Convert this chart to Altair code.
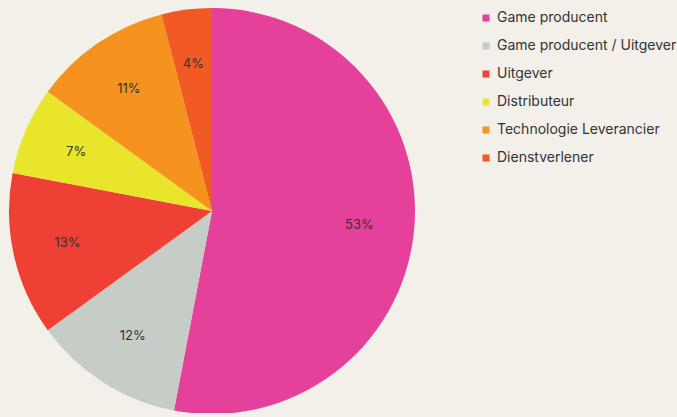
import altair as alt
import pandas as pd

categories = ["Game producent", "Game producent / Uitgever", "Uitgever",
              "Distributeur", "Technologie Leverancier", "Dienstverlener"]
values = [53, 12, 13, 7, 11, 4]
colors = ["#e5409a", "#c5cdc6", "#ee4035", "#e8e52a", "#f6921e", "#f15a24"]

df = pd.DataFrame({
    "cat": categories,
    "value": values,
    "order": list(range(len(categories))),
    "label": [f"{v}%" for v in values],
})

FONT = "Inter"
BG = "#f2f0e8"

# page background to match the chart background; no page margin
try:
    import altair.utils.html as _h
    _orig = _h.TEMPLATES["standard"]

    class _Wrapped:
        def render(self, **kw):
            return _orig.render(**kw).replace(
                "<head>",
                "<head><style>html,body{background:%s;margin:0;padding:0;overflow:hidden;}"
                ".vega-embed{padding:0 !important;}</style>" % BG,
                1)

    _h.TEMPLATES["standard"] = _Wrapped()
except Exception:
    pass

base = alt.Chart(df).encode(
    theta=alt.Theta("value:Q", stack=True),
    order=alt.Order("order:Q"),
)

pie = base.mark_arc(outerRadius=203, stroke=None).encode(
    x=alt.value(212),
    y=alt.value(211),
    color=alt.Color(
        "cat:N",
        scale=alt.Scale(domain=categories, range=colors),
        sort=categories,
        legend=alt.Legend(
            title=None,
            orient="none",
            legendX=479,
            legendY=11,
            symbolType="square",
            symbolSize=49,
            symbolStrokeWidth=0,
            labelFontSize=14,
            labelFont=FONT,
            labelColor="#333333",
            labelOffset=4,
            rowPadding=14,
            labelLimit=300,
        ),
    ),
)

text = base.mark_text(radius=148, font=FONT, fontSize=13, color="#333333",
                      baseline="middle").encode(
    x=alt.value(212),
    y=alt.value(211),
    text="label:N",
)

chart = (pie + text).properties(
    width=677, height=413, background=BG,
    autosize=alt.AutoSizeParams(type="none"), padding=0,
).configure_view(stroke=None)

chart.save("out.html", embed_options={"renderer": "svg", "actions": False})
